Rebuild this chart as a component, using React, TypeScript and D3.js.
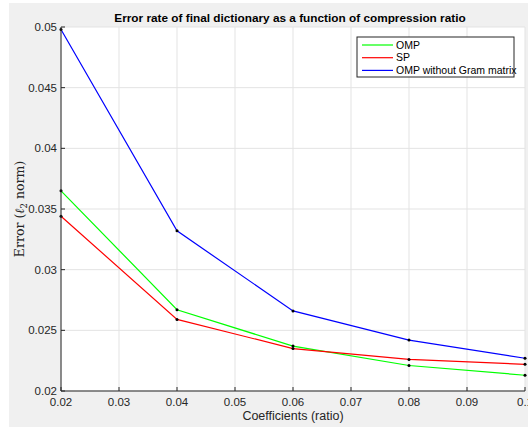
import React from 'react';
import * as d3 from 'd3';

// values
const ratios = [0.02, 0.04, 0.06, 0.08, 0.1];
const ompErr = [0.0365, 0.0267, 0.0237, 0.0221, 0.0213];
const spErr = [0.0344, 0.0259, 0.0235, 0.0226, 0.0222];
const ompNoGramErr = [0.0498, 0.0332, 0.0266, 0.0242, 0.0227];

const xTicks = [0.02, 0.03, 0.04, 0.05, 0.06, 0.07, 0.08, 0.09, 0.1];
const xTickLabels = ['0.02', '0.03', '0.04', '0.05', '0.06', '0.07', '0.08', '0.09', '0.1'];
const yTicks = [0.02, 0.025, 0.03, 0.035, 0.04, 0.045, 0.05];
const yTickLabels = ['0.02', '0.025', '0.03', '0.035', '0.04', '0.045', '0.05'];

const seriesNames = ['OMP', 'SP', 'OMP without Gram matrix'];
const seriesColors = ['#00ff00', '#ff0000', '#0000ff'];
const seriesValues = [ompErr, spErr, ompNoGramErr];

const W = 528;
const H = 427;
const plot = { left: 61, right: 525, top: 27, bottom: 391 };
const axisColor = '#262626';
const font = 'Liberation Sans, Arial, sans-serif';

export default function App() {
  const x = d3.scaleLinear().domain([0.02, 0.1]).range([plot.left, plot.right]);
  const y = d3.scaleLinear().domain([0.02, 0.05]).range([plot.bottom, plot.top]);

  const line = d3.line<number>()
    .x((_, i) => x(ratios[i]))
    .y(d => y(d));

  return (
    <div style={{ position: 'fixed', left: 0, top: 0 }}>
      <svg width={W} height={H} style={{ display: 'block', background: '#fff' }}>
        <rect x={9} y={3} width={W - 9} height={424} fill="#f0f0f0" />
        <rect x={plot.left} y={plot.top} width={plot.right - plot.left} height={plot.bottom - plot.top} fill="#fff" />

        {/* grid */}
        {xTicks.map(t => (
          <line key={'gx' + t} x1={x(t)} x2={x(t)} y1={plot.top} y2={plot.bottom} stroke="#e3e3e3" strokeWidth={1} />
        ))}
        {yTicks.map(t => (
          <line key={'gy' + t} x1={plot.left} x2={plot.right} y1={y(t)} y2={y(t)} stroke="#e3e3e3" strokeWidth={1} />
        ))}

        {/* series */}
        {seriesValues.map((vals, s) => (
          <g key={seriesNames[s]}>
            <path d={line(vals) || ''} fill="none" stroke={seriesColors[s]} strokeWidth={1.2} />
            {vals.map((v, i) => (
              <circle key={i} cx={x(ratios[i])} cy={y(v)} r={1.5} fill="#000" />
            ))}
          </g>
        ))}

        {/* axes */}
        <line x1={plot.left} x2={plot.right} y1={plot.bottom} y2={plot.bottom} stroke={axisColor} strokeWidth={1} />
        <line x1={plot.left} x2={plot.left} y1={plot.top} y2={plot.bottom} stroke={axisColor} strokeWidth={1} />
        {xTicks.map((t, i) => (
          <g key={'xt' + t}>
            <line x1={x(t)} x2={x(t)} y1={plot.bottom} y2={plot.bottom - 4} stroke={axisColor} />
            <text x={x(t)} y={plot.bottom + 15} textAnchor="middle" fontFamily={font} fontSize={11.5} fill={axisColor}>
              {xTickLabels[i]}
            </text>
          </g>
        ))}
        {yTicks.map((t, i) => (
          <g key={'yt' + t}>
            <line x1={plot.left} x2={plot.left + 4} y1={y(t)} y2={y(t)} stroke={axisColor} />
            <text x={plot.left - 4} y={y(t) + 4} textAnchor="end" fontFamily={font} fontSize={11.5} fill={axisColor}>
              {yTickLabels[i]}
            </text>
          </g>
        ))}

        {/* title and labels */}
        <text x={(plot.left + plot.right) / 2 - 3} y={22} textAnchor="middle" fontFamily={font} fontSize={11.8} fontWeight="bold" fill="#000">
          Error rate of final dictionary as a function of compression ratio
        </text>
        <text x={(plot.left + plot.right) / 2} y={420} textAnchor="middle" fontFamily={font} fontSize={12.5} fill={axisColor}>
          Coefficients (ratio)
        </text>
        <text transform={`translate(24,${(plot.top + plot.bottom) / 2}) rotate(-90)`} textAnchor="middle"
          fontFamily="DejaVu Serif, Liberation Serif, serif" fontSize={12.5} fill={axisColor}>
          Error (<tspan fontStyle="italic">ℓ</tspan><tspan fontSize={8.5} dy={3}>2</tspan><tspan dy={-3}> norm)</tspan>
        </text>

        {/* legend */}
        <rect x={357} y={37} width={157} height={40} fill="#fff" stroke="#262626" strokeWidth={1} />
        {seriesNames.map((n, i) => (
          <g key={'lg' + n}>
            <line x1={362} x2={393} y1={45 + i * 12.7} y2={45 + i * 12.7} stroke={seriesColors[i]} strokeWidth={1.2} />
            <text x={396} y={48.5 + i * 12.7} fontFamily={font} fontSize={10.5} fill="#000">{n}</text>
          </g>
        ))}
      </svg>
    </div>
  );
}
